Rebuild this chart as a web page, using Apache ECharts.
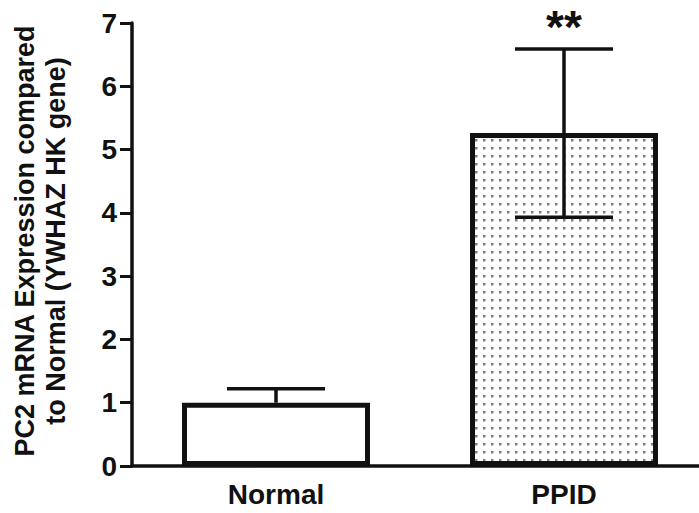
<!DOCTYPE html>
<html><head><meta charset="utf-8">
<script src="https://cdn.jsdelivr.net/npm/echarts@6/dist/echarts.min.js"></script>
<style>html,body{margin:0;padding:0;background:#fff}#c{width:699px;height:513px}</style>
</head><body><div id="c"></div>
<script>
const categories = ['Normal', 'PPID'];
const means = [1.0, 5.26];
const errorUpper = [1.22, 6.59];
const errorLower = [1.0, 3.93];
const significance = ['', '**'];
const yTitle = 'PC2 mRNA Expression compared\nto Normal (YWHAZ HK gene)';

const FONT = '"Liberation Sans", Arial, sans-serif';
const INK = '#111';

const pc = document.createElement('canvas');
pc.width = 8; pc.height = 8;
const ctx = pc.getContext('2d');
ctx.fillStyle = '#fff'; ctx.fillRect(0, 0, 8, 8);
ctx.fillStyle = '#808080'; ctx.fillRect(3, 3, 2.5, 2.5);
const dotPattern = { image: pc, repeat: 'repeat', imageWidth: 8, imageHeight: 8 };

const chart = echarts.init(document.getElementById('c'), null, { renderer: 'svg' });
chart.setOption({
  backgroundColor: '#fff',
  animation: false,
  grid: { left: 132, right: -9, top: 23, bottom: 47, containLabel: false, outerBoundsMode: 'none' },
  graphic: [{
    type: 'text', x: 40, y: 241, rotation: Math.PI / 2,
    style: { text: yTitle, fontSize: 27, fontWeight: 'bold', fontFamily: FONT, fill: INK,
      align: 'center', verticalAlign: 'middle', lineHeight: 31 }
  }],
  xAxis: {
    type: 'category', data: categories,
    axisLine: { lineStyle: { color: INK, width: 3.5 } },
    axisTick: { alignWithLabel: true, length: 12, lineStyle: { color: INK, width: 3 } },
    axisLabel: { fontSize: 28, fontWeight: 'bold', fontFamily: FONT, color: INK, margin: 14 }
  },
  yAxis: {
    type: 'value', min: 0, max: 7, interval: 1,
    splitLine: { show: false },
    axisLine: { show: true, lineStyle: { color: INK, width: 3.5 } },
    axisTick: { show: true, length: 12, lineStyle: { color: INK, width: 3 } },
    axisLabel: { fontSize: 28, fontWeight: 'bold', fontFamily: FONT, color: INK, margin: 15 }
  },
  series: [{
    type: 'bar', barWidth: 188,
    data: means.map((v, i) => ({ value: v, itemStyle: { color: i === 0 ? '#fff' : dotPattern } })),
    itemStyle: { borderColor: INK, borderWidth: 5 }, z: 2
  }, {
    type: 'custom', z: 10, clip: false,
    data: categories.map((c, i) => [i, errorLower[i], errorUpper[i], means[i]]),
    renderItem: (params, api) => {
      const i = params.dataIndex;
      const x = api.coord([api.value(0), 0])[0];
      const yTop = api.coord([api.value(0), api.value(2)])[1];
      const yLow = api.coord([api.value(0), api.value(1)])[1];
      const half = 49;
      const st = { stroke: INK, lineWidth: 3.5 };
      const ch = [
        { type: 'line', shape: { x1: x, y1: yLow, x2: x, y2: yTop }, style: st },
        { type: 'line', shape: { x1: x - half, y1: yTop, x2: x + half, y2: yTop }, style: st }
      ];
      if (api.value(1) < api.value(3)) {
        ch.push({ type: 'line', shape: { x1: x - half, y1: yLow, x2: x + half, y2: yLow }, style: st });
      }
      if (significance[i]) {
        ch.push({ type: 'text', x: x, y: yTop + 1, style: { text: significance[i], fontSize: 46,
          fontWeight: 'bold', fontFamily: FONT, fill: INK, align: 'center', verticalAlign: 'bottom' } });
      }
      return { type: 'group', children: ch };
    }
  }]
});
</script></body></html>
